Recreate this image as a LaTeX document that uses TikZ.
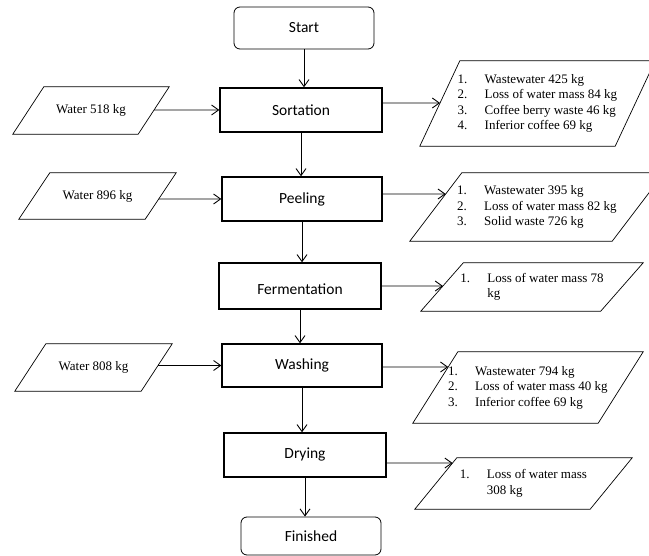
\documentclass[tikz,border=0pt]{standalone}
\usepackage{fontspec}
\setmainfont{Liberation Serif}
\newfontfamily\boxfont{Carlito}
\usetikzlibrary{arrows.meta}
\newcommand{\lno}[1]{\makebox[27pt][l]{#1}}

\begin{document}
\begin{tikzpicture}[
        x=1pt, y=-1pt,
        >={Straight Barb[length=7pt, width=10pt]},
        termnode/.style={
            draw, line width=0.8pt, rounded corners=6pt, inner sep=0pt,
            font=\boxfont\fontsize{15.5}{18}\selectfont
        },
        processnode/.style={
            draw, line width=1.4pt, inner sep=0pt,
            font=\boxfont\fontsize{15.5}{18}\selectfont
        },
        datanode/.style={
            inner sep=0pt, align=left, font=\fontsize{13}{15.5}\selectfont
        },
        dataline/.style={line width=0.7pt, line join=miter},
        flow/.style={->, line width=0.9pt}
    ]
    \useasboundingbox (0, 0) rectangle (649, 556);

    % main steps
    \node[termnode, minimum width=140pt, minimum height=42pt] (start) at (304, 28) {Start};
    \node[processnode, minimum width=162pt, minimum height=44pt] (sort) at (301, 110) {Sortation};
    \node[processnode, minimum width=160pt, minimum height=44pt] (peel) at (302, 199) {Peeling};
    \node[processnode, minimum width=162pt, minimum height=46pt] (ferm) at (300, 286) {\raisebox{-9pt}[0pt][0pt]{Fermentation}};
    \node[processnode, minimum width=160pt, minimum height=43pt] (wash) at (302, 365.5) {Washing};
    \node[processnode, minimum width=162pt, minimum height=44pt] (dry) at (305, 455) {Drying};
    \node[termnode, minimum width=140pt, minimum height=38pt] (fin) at (311, 536) {Finished};

    % inputs
    \node[datanode, minimum width=156pt, minimum height=47pt] (w1) at (91, 110.5) {Water 518 kg};
    \node[datanode, minimum width=157pt, minimum height=46pt] (w2) at (97.5, 196) {Water 896 kg};
    \node[datanode, minimum width=157pt, minimum height=47pt] (w3) at (93.5, 367.5) {Water 808 kg};

    % outputs
    \node[datanode, minimum width=235pt, minimum height=85pt] (out1) at (537.5, 103.5)
        {\lno{1.}Wastewater 425 kg\\ \lno{2.}Loss of water mass 84 kg\\
         \lno{3.}Coffee berry waste 46 kg\\ \lno{4.}Inferior coffee 69 kg};
    \node[datanode, minimum width=254pt, minimum height=68pt] (out2) at (537, 207)
        {\lno{1.}Wastewater 395 kg\\ \lno{2.}Loss of water mass 82 kg\\
         \lno{3.}Solid waste 726 kg};
    \node[datanode, minimum width=222pt, minimum height=48pt] (out3) at (532, 287)
        {\lno{1.}Loss of water mass 78\\ \lno{}kg};
    \node[datanode, minimum width=230pt, minimum height=71pt] (out4) at (528, 387.5)
        {\lno{1.}Wastewater 794 kg\\ \lno{2.}Loss of water mass 40 kg\\
         \lno{3.}Inferior coffee 69 kg};
    \node[datanode, minimum width=217pt, minimum height=51pt] (out5) at (523.5, 483.5)
        {\lno{1.}Loss of water mass\\ \lno{}308 kg};

    % parallelograms round the data nodes
    \foreach \n/\s in {w1/31, w2/31, w3/31, out1/40, out2/52, out3/42.5, out4/45, out5/42}
        \draw[dataline] (\n.south west) -- ([xshift=\s]\n.north west) -- (\n.north east)
            -- ([xshift=-\s]\n.south east) -- cycle;

    \coordinate (sortout) at ([yshift=7pt]sort.east);
    \coordinate (peelout) at ([yshift=5pt]peel.east);
    \coordinate (fermout) at (ferm.east);
    \coordinate (washout) at ([yshift=-1.5pt]wash.east);
    \coordinate (dryout) at ([yshift=-8pt]dry.east);

    \draw[flow] (start.south) -- (start.south |- sort.north);
    \draw[flow] (sort.south) -- (sort.south |- peel.north);
    \draw[flow] (peel.south) -- (peel.south |- ferm.north);
    \draw[flow] (ferm.south) -- (ferm.south |- wash.north);
    \draw[flow] (wash.south) -- (wash.south |- dry.north);
    \draw[flow] (dry.south) -- (dry.south |- fin.north);

    \draw[flow] (intersection of sort.west--sort.east and w1.north east--[xshift=-31]w1.south east) -- (sort.west);
    \draw[flow] (intersection of peel.west--peel.east and w2.north east--[xshift=-31]w2.south east) -- (peel.west);
    \draw[flow] (intersection of wash.west--wash.east and w3.north east--[xshift=-31]w3.south east) -- (wash.west);

    \draw[flow] (sortout) -- (intersection of sortout--sortout -| out1.east and out1.south west--[xshift=40]out1.north west);
    \draw[flow] (peelout) -- (intersection of peelout--peelout -| out2.east and out2.south west--[xshift=52]out2.north west);
    \draw[flow] (fermout) -- (intersection of fermout--fermout -| out3.east and out3.south west--[xshift=42.5]out3.north west);
    \draw[flow] (washout) -- (intersection of washout--washout -| out4.east and out4.south west--[xshift=45]out4.north west);
    \draw[flow] (dryout) -- (intersection of dryout--dryout -| out5.east and out5.south west--[xshift=42]out5.north west);
\end{tikzpicture}
\end{document}
